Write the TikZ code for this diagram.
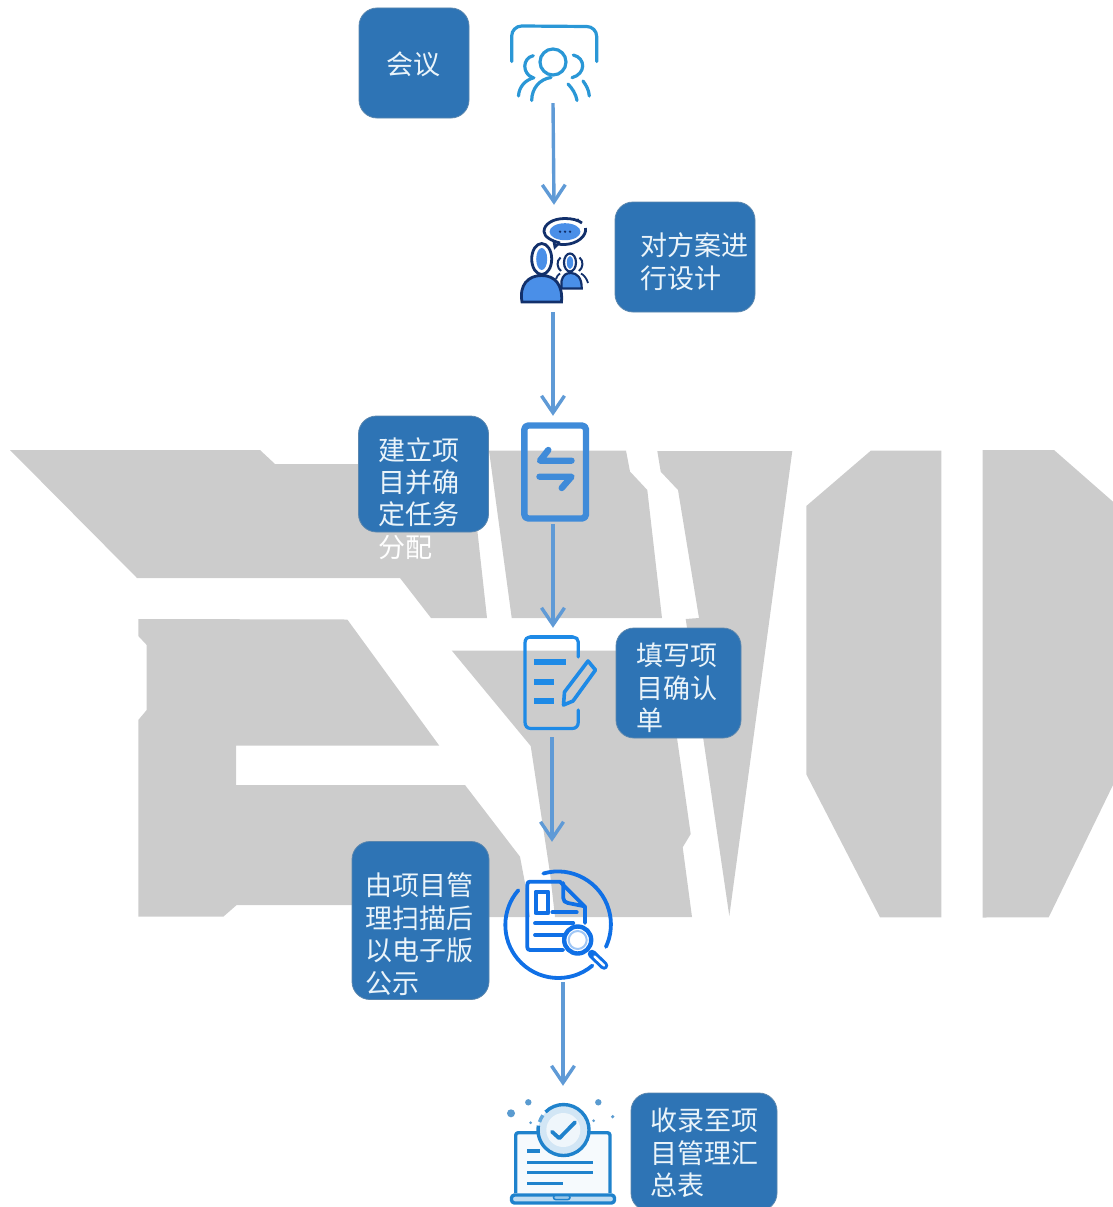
\documentclass[tikz,border=0pt]{standalone}
\usepackage{fontspec}
\setmainfont{Noto Sans CJK SC}
\usetikzlibrary{arrows.meta}
\definecolor{wm}{HTML}{CCCCCC}
\definecolor{boxblue}{HTML}{2E74B5}
\definecolor{boxedge}{HTML}{5A86AE}
\definecolor{txt}{HTML}{EAF4FA}
\definecolor{flow}{HTML}{5F9AD6}
\definecolor{icA}{HTML}{2A97D6}
\definecolor{navy}{HTML}{12306B}
\definecolor{fillB}{HTML}{4A8FE8}
\definecolor{icC}{HTML}{3F8BD9}
\definecolor{icD}{HTML}{1E8AE6}
\definecolor{icE}{HTML}{1070E6}
\definecolor{icF}{HTML}{1F82CC}
\definecolor{dotc}{HTML}{5A9BD0}
\tikzset{
  wmark/.style={fill=wm,draw=none},
  stepbox/.style={draw=boxedge,line width=0.8pt,fill=boxblue,rounded corners=18pt,inner sep=0pt},
  steptext/.style={anchor=north west,inner sep=0pt,text=txt,align=left,font=\fontsize{27}{32.4}\selectfont},
  flowline/.style={draw=flow,line width=3.4pt,-{Straight Barb[length=17pt,width=23pt,line width=3.4pt]}},
  iconspot/.style={inner sep=0pt,draw=none,fill=none},
  thinA/.style={draw=icA,line width=3.2pt,line cap=round},
  navyL/.style={draw=navy,line width=2.8pt},
  lineC/.style={draw=icC,line width=6.4pt,line cap=round,line join=round},
  lineD/.style={draw=icD,line width=3.2pt,line cap=round},
  barD/.style={draw=icD,line width=6.3pt},
  lineE/.style={draw=icE,line width=3.8pt,line cap=round,line join=round},
  lineF/.style={draw=icF,line width=3.4pt,line join=round},
  barF/.style={draw=icF,line width=3.2pt},
  dotF/.style={fill=dotc,draw=none}
}
\begin{document}
\begin{tikzpicture}[x=1pt,y=1pt,yscale=-1]
\useasboundingbox (0,0) rectangle (1113,1207);
\clip (0,0) rectangle (1113,1207);
% watermark
\fill[wmark] (10,450)--(260,450)--(275,464)--(470,464)--(487,618)--(431,618)--(400,578)--(137,578)--cycle;
\fill[wmark] (489,450.5)--(626,450.5)--(630,471.5)--(647.3,490)--(662,618)--(511.7,618)--cycle;
\fill[wmark] (657.3,451)--(792.3,451)--(729.3,916)--(685.7,619)--(699,618)--(678,490)--(660.7,471.7)--cycle;
\fill[wmark] (138.3,619)--(347.3,619.5)--(439.3,745.7)--(236,745.7)--(236,785)--(465,785)--(520,856.7)--(525,883)--(530,917)--(400,917)--(400,905)--(236.7,905)--(223.3,916.7)--(138.3,916.7)--(138.3,720)--(146.7,710)--(146.7,645)--(138.3,636)--cycle;
\fill[wmark] (451.7,650.5)--(664.5,650.5)--(677.3,740)--(690.7,834)--(682.7,847.3)--(692,917)--(555,917)--(550,873)--(530.7,746)--cycle;
\fill[wmark] (871,450.5)--(941.3,450.5)--(941.3,917.3)--(880,917.3)--(806.3,774.3)--(806.3,506)--cycle;
\fill[wmark] (982.7,450)--(1054,450)--(1113,501.7)--(1113,785)--(1048.7,917.3)--(982.7,917.5)--cycle;

% boxes
\node[stepbox,minimum width=110pt,minimum height=110pt] (b1) at (414,63) {};
\node[stepbox,minimum width=140pt,minimum height=110pt] (b2) at (685,257) {};
\node[stepbox,minimum width=130pt,minimum height=116pt] (b3) at (423.5,474) {};
\node[stepbox,minimum width=125pt,minimum height=110pt] (b4) at (678.5,683) {};
\node[stepbox,minimum width=137pt,minimum height=158pt] (b5) at (420.5,920.5) {};
\node[stepbox,minimum width=146pt,minimum height=118pt] (b6) at (704,1152) {};

% texts
\node[steptext] (t1) at (386.5,52) {会议};
\node[steptext] (t2) at (640.5,232) {对方案进\\[1.4pt]行设计};
\node[steptext] (t3) at (378.5,437) {建立项\\目并确\\定任务\\\textcolor{white}{分配}};
\node[steptext] (t4) at (636.5,643) {填写项\\目确认\\单};
\node[steptext] (t5) at (365.5,873) {由项目管\\理扫描后\\以电子版\\公示};
\node[steptext] (t6) at (650.5,1108) {收录至项\\目管理汇\\总表};

% icon anchors
\node[iconspot,minimum width=90pt,minimum height=78pt] (i1) at (553,64) {};
\node[iconspot,minimum width=70pt,minimum height=107pt] (i2) at (554,258.5) {};
\node[iconspot,minimum width=70pt,minimum height=108pt] (i3) at (553,470) {};
\node[iconspot,minimum width=72pt,minimum height=109pt] (i4) at (552.5,682.5) {};
\node[iconspot,minimum width=106pt,minimum height=140pt] (i5) at (563,912) {};
\node[iconspot,minimum width=106pt,minimum height=120pt] (i6) at (563,1146) {};

% connectors
\draw[flowline] (i1.south) -- (i2.north);
\draw[flowline] ([xshift=-1pt]i2.south) -- (i3.north);
\draw[flowline] (i3.south) -- ([xshift=0.5pt]i4.north);
\draw[flowline] ([xshift=-0.5pt]i4.south) -- ([xshift=-11pt]i5.north);
\draw[flowline] (i5.south) -- (i6.north);

% icon 1: meeting
\draw[thinA] (511.7,61.5) -- (511.7,36) arc[start angle=180,end angle=270,radius=10] -- (586.7,26.5) arc[start angle=270,end angle=360,radius=10] -- (596.7,61.5);
\draw[thinA] (553,62) circle[radius=13];
\draw[thinA] (531.7,100.5) .. controls (531.7,88) and (540,79) .. (551,77.5);
\draw[thinA] (568,84) .. controls (572,88) and (576,94) .. (577,100.5);
\draw[thinA] (533.3,55.7) .. controls (522,58) and (522,74) .. (533,77.7);
\draw[thinA] (518.5,96) .. controls (519,87) and (525,80) .. (534,77.7);
\draw[thinA] (573.3,55) .. controls (586,58) and (586,74) .. (572,77.7);
\draw[thinA] (583,81) .. controls (586,85) and (589,90) .. (589.3,96);

% icon 2: discussion
\draw[navyL,fill=white] (560,243) .. controls (552,241) and (544,237) .. (544,231.5) .. controls (544,224) and (553,218.5) .. (565,218.5) .. controls (572,218.5) and (578,220) .. (582,223);
\draw[navyL] (585.5,228) .. controls (587,236) and (577,244) .. (565,244.5) .. controls (562,244.5) and (560,244.5) .. (558,244) -- (555,247) -- (554,241.5);
\fill[navy] (578,219.5) circle[radius=1.2];
\fill[fillB] (565,231.7) ellipse[x radius=15.5,y radius=8.5];
\foreach \dx in {-5,0,5} {\fill[navy] (565+\dx,231.7) circle[radius=1.3];}
\draw[navyL,fill=white] (541.7,259) ellipse[x radius=10,y radius=15.5];
\fill[fillB] (541.7,259) ellipse[x radius=5.5,y radius=11];
\draw[navyL,fill=fillB] (522,302) .. controls (519,285) and (528,275.5) .. (541.7,275.5) .. controls (555,275.5) and (563,285) .. (561.5,302) -- cycle;
\draw[navyL,line width=2.2pt,fill=white] (570,262.5) ellipse[x radius=6,y radius=9];
\fill[fillB] (570,262.5) ellipse[x radius=3.2,y radius=6.5];
\draw[navyL,line width=2pt] (560.5,257.5) .. controls (556,261) and (557,268) .. (561,271);
\draw[navyL,line width=2pt] (579.5,257.5) .. controls (584,261) and (583,268) .. (579,271);
\draw[navyL,line width=2.2pt,fill=fillB] (561.5,288.5) -- (561.5,281) .. controls (563,275) and (566,273) .. (571,273) .. controls (577,273) and (582,278) .. (581.7,288.5) -- cycle;
\draw[navyL,line width=1.8pt] (556,279) .. controls (557,276) and (558,275) .. (560,273.5);
\draw[navyL,line width=1.8pt] (581,273.5) .. controls (584,275) and (587,279) .. (588,283);

% icon 3: exchange
\draw[lineC,rounded corners=4pt] (524.3,425.5) rectangle (586,518.5);
\draw[lineC] (571.5,460.7) -- (540,460.7) -- (548.3,450);
\draw[lineC] (539.5,476.7) -- (571.5,476.7) -- (561.7,488);

% icon 4: form
\draw[lineD] (578.3,657) -- (578.3,642) .. controls (578.3,639) and (576,637) .. (573,637);
\draw[lineD,line width=4.4pt] (531,637) -- (572,637);
\draw[lineD] (531,637) .. controls (527,637) and (525,639) .. (525,643) -- (525,722) .. controls (525,726) and (527,728.5) .. (531,728.5) -- (572,728.5) .. controls (576,728.5) and (578.3,726) .. (578.3,722) -- (578.3,710);
\draw[barD] (534.3,661.7) -- (565.7,661.7);
\draw[barD] (534.3,681.7) -- (554.3,681.7);
\draw[barD] (534.3,701.3) -- (554.3,701.3);
\draw[lineD,line width=3.6pt,line join=round] (563.5,705) -- (564.5,692) -- (588,661) -- (595.5,670) -- (573,701) -- cycle;

% icon 5: search document
\draw[lineE] (543.3,873.5) arc[start angle=-106,end angle=25,radius=53];
\draw[lineE] (592.4,965.6) arc[start angle=50,end angle=221,radius=53];
\draw[lineE] (563.3,950) -- (530,950) .. controls (528,950) and (527.3,949) .. (527.3,947) -- (527.3,885) .. controls (527.3,882.5) and (528,881.7) .. (530,881.7) -- (560,881.7) -- (585,906.7) -- (585,923);
\draw[lineE] (563.3,883) -- (563.3,898) .. controls (563.3,901) and (565,902.5) .. (568,903) -- (583,906);
\draw[lineE] (535.7,891.7) rectangle (548.3,913.3);
\draw[lineE] (552.3,912.3) -- (576.7,912.3);
\draw[lineE] (535,923.3) -- (573.3,923.3);
\draw[lineE] (535,935) -- (563.3,935);
\draw[lineE,line width=4.4pt,fill=white] (577.7,940) circle[radius=13.5];
\draw[draw=icE!40,line width=2pt] (577.7,940) circle[radius=9];
\draw[draw=icE,line width=8.5pt,line cap=round] (592,954) -- (604,965.5);
\draw[draw=white,line width=2.4pt,line cap=round] (594.5,956.5) -- (604,965.5);

% icon 6: laptop
\draw[lineF,fill=white,rounded corners=2.5pt] (515.7,1193) -- (515.7,1132.7) -- (610,1132.7) -- (610,1193);
\fill[fill=icF!4] (517.5,1135) rectangle (608,1193);
\draw[barF] (527.3,1151) -- (540,1151);
\draw[barF] (527.3,1162.3) -- (593.3,1162.3);
\draw[barF] (527.3,1172.7) -- (593.3,1172.7);
\draw[barF] (527.3,1183.3) -- (563.3,1183.3);
\draw[lineF,fill=icF!28,rounded corners=3pt] (511.5,1195) rectangle (614.5,1203);
\draw[draw=icF,fill=icF!45,line width=1.5pt,rounded corners=2pt] (553.5,1195.5) rectangle (570,1199.5);
\fill[fill=icF!20] (563.3,1130) circle[radius=25];
\fill[fill=icF!7] (563.3,1130) circle[radius=17];
\draw[draw=icF,line width=3.4pt] (545.5,1112) arc[start angle=-135,end angle=190,radius=25.5];
\draw[draw=icF!70,line width=3.4pt] (539.5,1122) arc[start angle=-162,end angle=-145,radius=25.5];
\draw[draw=icF,line width=3.8pt,line cap=round,line join=round] (552,1131.7) -- (559.3,1138.3) -- (575,1122.3);
\fill[dotF] (511,1113.3) circle[radius=4];
\fill[dotF] (528.3,1102.3) circle[radius=3.2];
\fill[dotF] (598.3,1102.3) circle[radius=3.2];
\fill[dotF] (612.7,1116.7) circle[radius=1.8];
\fill[dotF] (530.7,1122.7) circle[radius=1.5];
\fill[dotF] (593.7,1120.7) circle[radius=1.5];
\end{tikzpicture}
\end{document}
